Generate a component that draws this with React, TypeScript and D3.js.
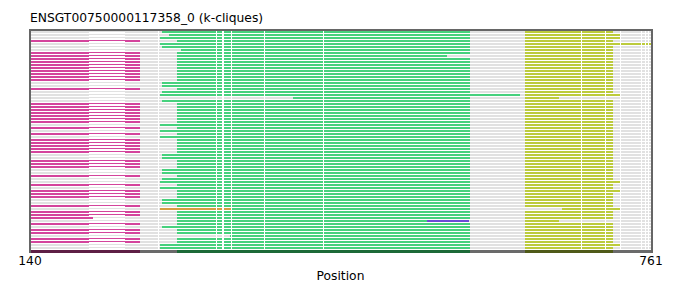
import React from "react";
import * as d3 from "d3";

const title = "ENSGT00750000117358_0 (k-cliques)";
const xDomain = [140, 761];
const xTicks = [140, 761];
const xLabel = "Position";

// rows with the magenta clique at the start
const magentaRows = [3, 7, 8, 9, 10, 11, 12, 13, 14, 15, 16, 19, 24, 25, 26, 27, 28, 29, 30, 32, 34, 36, 37, 38, 39, 40, 43, 44, 45, 48, 51, 53, 54, 55, 58, 60, 61, 62, 64, 66, 67, 69, 70];
const magentaEnd = [250, 250, 250, 250, 250, 250, 250, 250, 250, 250, 250, 250, 250, 250, 250, 250, 250, 250, 250, 250, 250, 250, 250, 250, 250, 250, 250, 250, 250, 250, 250, 250, 250, 250, 250, 250, 250, 203, 250, 250, 250, 250, 250];

// green clique start / end per row (73 rows)
const greenStart = [272, 279, 270, 287, 270, 272, 291, 287, 287, 287, 287, 287, 287, 287, 287, 287, 287, 272, 272, 287, 272, 270, 403, 272, 287, 287, 287, 287, 287, 287, 287, 270, 287, 270, 287, 270, 287, 287, 287, 287, 287, 272, 272, 287, 287, 287, 272, 272, 287, 272, 270, 287, 270, 287, 287, 287, 272, 272, 287, 341, 287, 287, 287, 287, 287, 272, 287, 287, 340, 287, 287, 270, 270];
const greenEnd = [580, 580, 580, 580, 580, 580, 580, 580, 557, 580, 580, 580, 580, 580, 580, 580, 580, 580, 580, 580, 580, 630, 580, 580, 580, 580, 580, 580, 580, 580, 580, 580, 580, 580, 580, 580, 580, 580, 580, 580, 580, 580, 580, 580, 580, 580, 580, 580, 580, 580, 580, 580, 580, 580, 580, 580, 580, 580, 580, 580, 580, 580, 580, 537, 580, 580, 580, 580, 580, 580, 580, 580, 580];

// yellow-green clique start / end per row
const yellowStart = [635, 635, 635, 635, 635, 635, 635, 635, 635, 635, 635, 635, 635, 635, 635, 635, 635, 635, 635, 635, 635, 635, 635, 635, 635, 635, 635, 635, 635, 635, 635, 635, 635, 635, 635, 635, 635, 635, 635, 635, 635, 635, 635, 635, 635, 635, 635, 635, 635, 635, 635, 635, 635, 635, 635, 635, 635, 635, 635, 672, 635, 635, 635, 635, 635, 635, 635, 635, 635, 635, 635, 635, 635];
const yellowEnd = [723, 731, 731, 723, 761, 723, 723, 723, 723, 723, 723, 723, 723, 723, 723, 723, 723, 723, 723, 723, 723, 731, 669, 723, 723, 723, 723, 723, 723, 723, 723, 723, 723, 723, 723, 723, 723, 723, 723, 723, 723, 723, 723, 723, 723, 723, 723, 723, 723, 723, 731, 723, 723, 731, 723, 723, 723, 723, 723, 730, 723, 723, 723, 669, 723, 723, 723, 723, 723, 723, 723, 731, 723];

// extra single cliques: [row, start, end]
const orangeSeg = [59, 270, 341];
const purpleSeg = [63, 537, 579];

// intron gap (thin line) and boundary marks
const gapStart = 199;
const gapEnd = 235;
const boundaryMarks = [268, 325.5, 331.5, 333, 341, 374, 432.5, 690.5, 714.5, 730, 751, 755, 758];

// summary track at the bottom
const summaryStarts = [140, 250, 287, 580, 635, 723];
const summaryEnds = [250, 287, 580, 635, 723, 761];
const summaryColors = ["#5e1f45", "#6a6a6a", "#1d6a38", "#6a6a6a", "#4f5a18", "#6a6a6a"];

const COLORS = {
  magenta: "#d4449c",
  green: "#46d17d",
  yellow: "#bccb3c",
  gray: "#e1e1e1",
  orange: "#d69c42",
  purple: "#6b4bd6",
  frame: "#666666",
};

export default function App() {
  const W = 681, H = 282;
  const left = 30, right = 651, top = 30, bottom = 252;
  const x = d3.scaleLinear().domain(xDomain).range([left, right]);
  const nRows = greenStart.length;
  const rowY = (k: number) => 31 + 3 * k;
  const barH = 2;
  const font = "DejaVu Sans, sans-serif";

  const rows = d3.range(nRows).map((k) => {
    const y = rowY(k);
    const mIdx = magentaRows.indexOf(k);
    const hasM = mIdx >= 0;
    const els: any[] = [];
    // base gray
    els.push(<rect key="b1" x={x(140)} y={y} width={x(gapStart) - x(140)} height={barH} fill={COLORS.gray} />);
    els.push(<rect key="b2" x={x(gapStart)} y={y} width={x(gapEnd) - x(gapStart)} height={1} fill={COLORS.gray} />);
    els.push(<rect key="b3" x={x(gapEnd)} y={y} width={x(761) - x(gapEnd)} height={barH} fill={COLORS.gray} />);
    if (hasM) {
      const me = magentaEnd[mIdx];
      if (me > gapEnd) {
        els.push(<rect key="m1" x={x(140)} y={y} width={x(gapStart) - x(140)} height={barH} fill={COLORS.magenta} />);
        els.push(<rect key="m2" x={x(gapStart)} y={y} width={x(gapEnd) - x(gapStart)} height={1} fill={COLORS.magenta} />);
        els.push(<rect key="m3" x={x(gapEnd)} y={y} width={x(me) - x(gapEnd)} height={barH} fill={COLORS.magenta} />);
      } else {
        els.push(<rect key="m1" x={x(140)} y={y} width={x(me) - x(140)} height={barH} fill={COLORS.magenta} />);
      }
    }
    els.push(<rect key="g" x={x(greenStart[k])} y={y} width={x(greenEnd[k]) - x(greenStart[k])} height={barH} fill={COLORS.green} />);
    els.push(<rect key="yl" x={x(yellowStart[k])} y={y} width={x(yellowEnd[k]) - x(yellowStart[k])} height={barH} fill={COLORS.yellow} />);
    if (orangeSeg[0] === k) {
      els.push(<rect key="o" x={x(orangeSeg[1])} y={y} width={x(orangeSeg[2]) - x(orangeSeg[1])} height={barH} fill={COLORS.orange} />);
    }
    if (purpleSeg[0] === k) {
      els.push(<rect key="p" x={x(purpleSeg[1])} y={y} width={x(purpleSeg[2]) - x(purpleSeg[1])} height={barH} fill={COLORS.purple} />);
    }
    boundaryMarks.forEach((b, i) => {
      els.push(<rect key={"w" + i} x={x(b)} y={y} width={1} height={barH} fill="#ffffff" />);
    });
    return <g key={k}>{els}</g>;
  });

  return (
    <svg width={W} height={H} style={{ position: "absolute", left: 0, top: 0, background: "#fff" }} shapeRendering="crispEdges">
      <rect x={0} y={0} width={W} height={H} fill="#ffffff" />
      <text x={left} y={22} fontFamily={font} fontSize={12.3} fill="#000">{title}</text>
      {rows}
      {summaryStarts.map((s, i) => (
        <rect key={"s" + i} x={x(s)} y={250} width={x(summaryEnds[i]) - x(s)} height={2.5} fill={summaryColors[i]} />
      ))}
      <rect x={left - 1} y={top - 1} width={2} height={bottom - top + 2} fill={COLORS.frame} />
      <rect x={left - 1} y={top - 1} width={right - left + 2} height={2} fill={COLORS.frame} />
      <rect x={right - 0.5} y={top - 1} width={2} height={bottom - top + 2} fill={COLORS.frame} />
      {xTicks.map((t) => (
        <text key={t} x={x(t)} y={265} fontFamily={font} fontSize={12.3} textAnchor="middle" fill="#000">{t}</text>
      ))}
      <text x={(left + right) / 2} y={280} fontFamily={font} fontSize={12.3} textAnchor="middle" fill="#000">{xLabel}</text>
    </svg>
  );
}
